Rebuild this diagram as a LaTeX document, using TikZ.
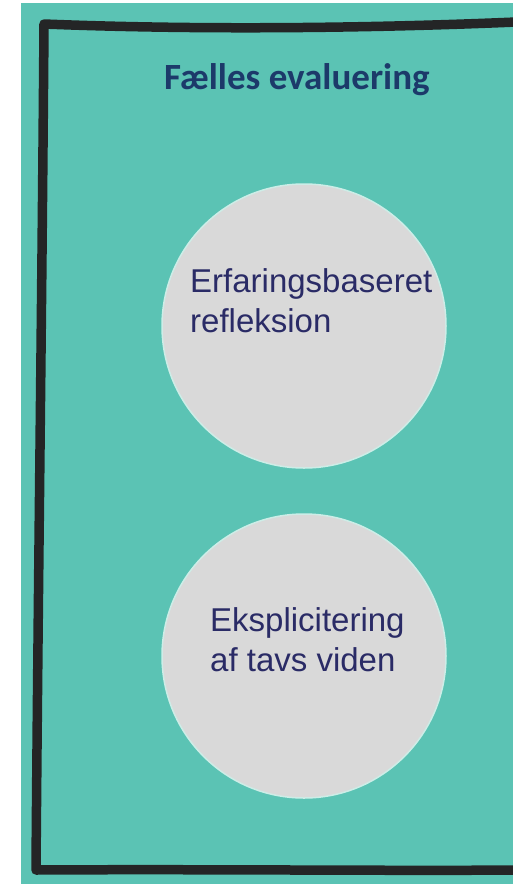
\documentclass[tikz,border=0pt]{standalone}
\usepackage{tikz}
\usepackage{fontspec}
\newfontfamily\bubblefont{Liberation Sans}
\newfontfamily\titlefont{Carlito}
\definecolor{tealbg}{HTML}{5BC3B4}
\definecolor{bubblegray}{HTML}{D9D9D9}
\definecolor{bubbleedge}{HTML}{CDEDE7}
\definecolor{titlenavy}{HTML}{1C3A6A}
\definecolor{bubbleink}{HTML}{2A2B66}
\definecolor{penblack}{HTML}{242526}

\begin{document}
\begin{tikzpicture}[x=1pt,y=-1pt,
	bubble/.style={draw=bubbleedge,line width=1.5pt,circle,fill=bubblegray,minimum size=284pt,inner sep=0pt},
	bubbletext/.style={anchor=north west,inner sep=0pt,align=left,text=bubbleink,font=\bubblefont\fontsize{33}{40}\selectfont},
	border/.style={draw=penblack,line width=9.5pt,line join=round,line cap=round}]
			\useasboundingbox (0,0) rectangle (513,884);
			\fill[white] (0,0) rectangle (513,884);
			\fill[tealbg] (21,3) rectangle (513,884);
			\draw[border] (516,22) .. controls (400,27) and (220,31) .. (44,24) .. controls (42,300) and (38,600) .. (36,870) .. controls (200,869) and (400,871) .. (516,870);
			\node[anchor=base west,inner sep=0pt,text=titlenavy,font=\titlefont\bfseries\fontsize{37}{44}\selectfont] (title) at (164,89) {Fælles evaluering};
			\node[bubble] (c1) at (304,326) {};
			\node[bubble] (c2) at (304,656) {};
			\node[bubbletext] (t1) at (190,268) {Erfaringsbaseret\\refleksion};
			\node[bubbletext] (t2) at (210,607) {Eksplicitering\\af tavs viden};
\end{tikzpicture}
\end{document}
